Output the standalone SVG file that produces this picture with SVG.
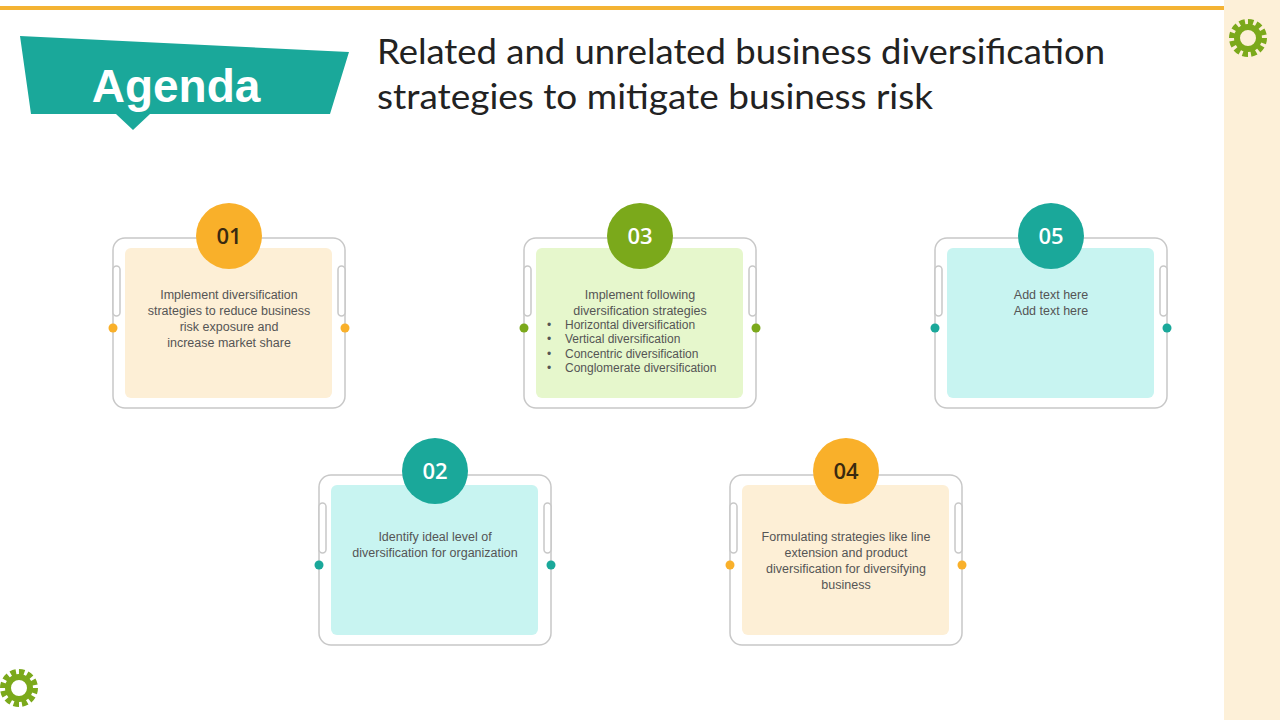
<svg xmlns="http://www.w3.org/2000/svg" width="1280" height="720" viewBox="0 0 1280 720">
<style>
.frame{fill:none;stroke:#c8c8c8;stroke-width:1.5}
.tab{fill:#fff;stroke:#c8c8c8;stroke-width:1.5}
.num{font-family:"Open Sans","Liberation Sans",sans-serif;font-size:22px;font-weight:600;fill:#3a2a10;text-anchor:middle}
.txt{font-family:"Liberation Sans",Arial,sans-serif;font-size:12.5px;fill:#555;text-anchor:middle}
.bl{font-family:"Liberation Sans",Arial,sans-serif;font-size:12px;fill:#555}
</style>
<defs>
<g id="fr">
<rect class="frame" x="-116" y="0" width="232" height="170" rx="12"/>
<rect class="tab" x="-116" y="28" width="7" height="50" rx="3.5"/>
<rect class="tab" x="109" y="28" width="7" height="50" rx="3.5"/>
</g>
<g id="gear">
<circle r="15" fill="none" stroke="#7ba91b" stroke-width="8" stroke-dasharray="5 2.8"/>
<circle r="11" fill="none" stroke="#7ba91b" stroke-width="6"/>
</g>
</defs>
<rect width="1280" height="720" fill="#fff"/>
<rect x="1224" y="0" width="56" height="720" fill="#fdf0d8"/>
<rect x="0" y="6" width="1224" height="4" fill="#f4b333"/>
<use href="#gear" x="1248" y="38"/>
<use href="#gear" x="19" y="688"/>
<g id="title">
<path d="M20,36 L349,52 L330,114 L150,114 L133,130 L116,114 L31,114 Z" fill="#1aa89a"/>
<text x="176" y="102" font-family="Liberation Sans,Arial,sans-serif" font-size="46" font-weight="bold" fill="#fff" text-anchor="middle">Agenda</text>
<text x="377" y="64" font-family="Lato,'Open Sans',sans-serif" font-size="34" fill="#222" textLength="728" lengthAdjust="spacingAndGlyphs">Related and unrelated business diversification</text>
<text x="377" y="109" font-family="Lato,'Open Sans',sans-serif" font-size="34" fill="#222" textLength="556" lengthAdjust="spacingAndGlyphs">strategies to mitigate business risk</text>
</g>
<g id="card01" transform="translate(229,238)">
<use href="#fr"/>
<rect x="-104" y="10" width="207" height="150" rx="6" fill="#fdefd6"/>
<circle cx="-116" cy="90" r="4.5" fill="#f9b02a"/><circle cx="116" cy="90" r="4.5" fill="#f9b02a"/>
<circle cx="0" cy="-2" r="33" fill="#f9b02a"/>
<text class="num" y="6">01</text>
<text class="txt" y="61">Implement  diversification</text>
<text class="txt" y="77">strategies to reduce business</text>
<text class="txt" y="93">risk exposure  and</text>
<text class="txt" y="109">increase  market share</text>
</g>
<g id="card03" transform="translate(640,238)">
<use href="#fr"/>
<rect x="-104" y="10" width="207" height="150" rx="6" fill="#e6f7cc"/>
<circle cx="-116" cy="90" r="4.5" fill="#7ba91b"/><circle cx="116" cy="90" r="4.5" fill="#7ba91b"/>
<circle cx="0" cy="-2" r="33" fill="#7ba91b"/>
<text class="num" y="6" style="fill:#fff">03</text>
<text class="txt" y="61">Implement  following</text>
<text class="txt" y="77">diversification  strategies</text>
<text class="bl" x="-93" y="91">•</text><text class="bl" x="-75" y="91">Horizontal diversification</text>
<text class="bl" x="-93" y="105">•</text><text class="bl" x="-75" y="105">Vertical diversification</text>
<text class="bl" x="-93" y="120">•</text><text class="bl" x="-75" y="120">Concentric diversification</text>
<text class="bl" x="-93" y="134">•</text><text class="bl" x="-75" y="134">Conglomerate diversification</text>
</g>
<g id="card05" transform="translate(1051,238)">
<use href="#fr"/>
<rect x="-104" y="10" width="207" height="150" rx="6" fill="#c8f4f1"/>
<circle cx="-116" cy="90" r="4.5" fill="#1aa89a"/><circle cx="116" cy="90" r="4.5" fill="#1aa89a"/>
<circle cx="0" cy="-2" r="33" fill="#1aa89a"/>
<text class="num" y="6" style="fill:#fff">05</text>
<text class="txt" y="61">Add text here</text>
<text class="txt" y="77">Add text here</text>
</g>
<g id="card02" transform="translate(435,475)">
<use href="#fr"/>
<rect x="-104" y="10" width="207" height="150" rx="6" fill="#c8f4f1"/>
<circle cx="-116" cy="90" r="4.5" fill="#1aa89a"/><circle cx="116" cy="90" r="4.5" fill="#1aa89a"/>
<circle cx="0" cy="-4" r="33" fill="#1aa89a"/>
<text class="num" y="4" style="fill:#fff">02</text>
<text class="txt" y="66">Identify ideal level of</text>
<text class="txt" y="82">diversification  for organization</text>
</g>
<g id="card04" transform="translate(846,475)">
<use href="#fr"/>
<rect x="-104" y="10" width="207" height="150" rx="6" fill="#fdefd6"/>
<circle cx="-116" cy="90" r="4.5" fill="#f9b02a"/><circle cx="116" cy="90" r="4.5" fill="#f9b02a"/>
<circle cx="0" cy="-4" r="33" fill="#f9b02a"/>
<text class="num" y="4">04</text>
<text class="txt" y="66">Formulating strategies like line</text>
<text class="txt" y="82">extension and product</text>
<text class="txt" y="98">diversification  for diversifying</text>
<text class="txt" y="114">business</text>
</g>
<g id="connectors"/>
</svg>
